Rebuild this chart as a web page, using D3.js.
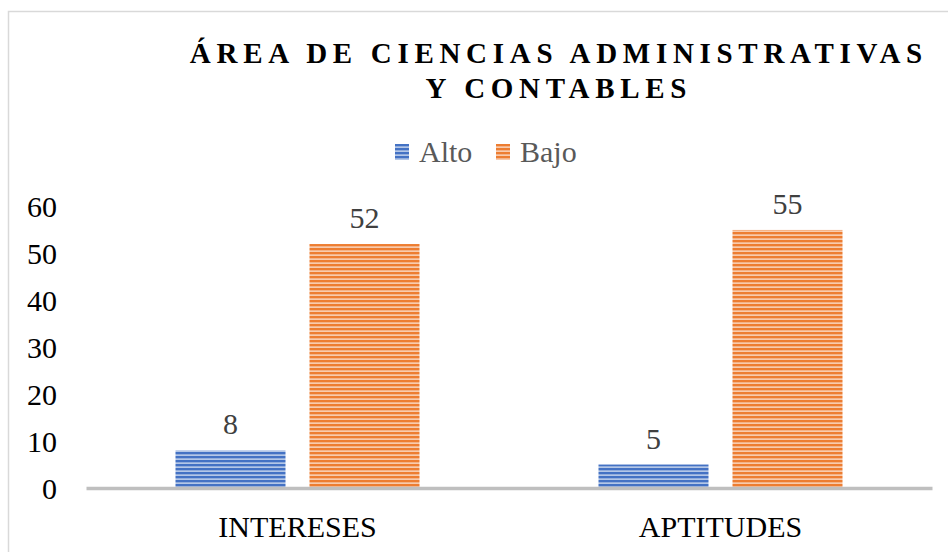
<!DOCTYPE html>
<html><head><meta charset="utf-8">
<script src="https://cdn.jsdelivr.net/npm/d3@7"></script>
<style>
body{margin:0;background:#fff;}
svg{display:block;}
</style>
</head><body>
<svg id="chart" width="948" height="552"></svg>
<script>
const categories = ["INTERESES", "APTITUDES"];
const seriesNames = ["Alto", "Bajo"];
const alto = [8, 5];
const bajo = [52, 55];
const yTicks = [0, 10, 20, 30, 40, 50, 60];
const titleLines = ["ÁREA DE CIENCIAS ADMINISTRATIVAS", "Y CONTABLES"];

const svg = d3.select("#chart");
const serif = "Liberation Serif";

// patterns
const defs = svg.append("defs");
const pat = [{id:"pAlto", dark:"#4472C4", light:"#b4c7e7"}, {id:"pBajo", dark:"#ED7D31", light:"#f8cbad"}];
pat.forEach(p => {
  const g = defs.append("pattern").attr("id", p.id).attr("patternUnits","userSpaceOnUse")
    .attr("width", 8).attr("height", 4);
  g.append("rect").attr("width",8).attr("height",4).attr("fill",p.light);
  g.append("rect").attr("y",0).attr("width",8).attr("height",2.3).attr("fill",p.dark);
});

// border
svg.append("rect").attr("x",8.5).attr("y",11.5).attr("width",945).attr("height",560)
  .attr("fill","none").attr("stroke","#d9d9d9").attr("stroke-width",1.5);

const x0 = d3.scaleBand().domain(categories).range([86, 932]).paddingInner(0).paddingOuter(0);
const x1 = d3.scaleBand().domain(seriesNames).range([89.5, 423-89.5]).paddingInner(24/134);
const y = d3.scaleLinear().domain([0, 60]).range([488, 206.5]);

// y axis labels
const yAxis = d3.axisLeft(y).tickValues(yTicks).tickSize(0).tickPadding(0);
const ya = svg.append("g").attr("transform","translate(57,0)").call(yAxis)
  .attr("font-family", serif).attr("font-size", 30);
ya.select(".domain").remove();
ya.selectAll("text").style("font-family", serif).attr("font-size", 30).attr("fill","#000").attr("dy","0.34em");

const data = categories.map((c,i) => ({cat:c, vals:[{s:"Alto", v:alto[i]}, {s:"Bajo", v:bajo[i]}]}));
const groups = svg.selectAll("g.cat").data(data).join("g").attr("class","cat")
  .attr("transform", d => `translate(${x0(d.cat)},0)`);
groups.selectAll("rect").data(d => d.vals).join("rect")
  .attr("x", d => x1(d.s)).attr("width", x1.bandwidth())
  .attr("y", d => y(d.v)).attr("height", d => y(0) - y(d.v))
  .attr("fill", d => d.s === "Alto" ? "url(#pAlto)" : "url(#pBajo)");
groups.selectAll("text.val").data(d => d.vals).join("text").attr("class","val")
  .attr("x", d => x1(d.s) + x1.bandwidth()/2).attr("y", d => y(d.v) - 16)
  .attr("text-anchor","middle").style("font-family", serif).attr("font-size", 30).attr("fill","#404040")
  .text(d => d.v);

// x axis
const xAxis = d3.axisBottom(x0).tickSize(0).tickPadding(28);
const xa = svg.append("g").attr("transform","translate(0,488)").call(xAxis)
  .attr("font-family", serif).attr("font-size", 30);
xa.select(".domain").attr("stroke","#bfbfbf").attr("stroke-width",3.5);
xa.selectAll("text").style("font-family", serif).attr("font-size", 30).attr("fill","#000");

// title
svg.append("g").selectAll("text").data(titleLines).join("text")
  .attr("x", 558.9).attr("y", (d,i) => 63 + i*35)
  .attr("text-anchor","middle").style("font-family", serif).attr("font-weight","bold")
  .attr("font-size", 29).style("letter-spacing", "5.7px").attr("fill","#000")
  .text(d => d);

// legend
const leg = svg.append("g");
const legX = [395, 496];
seriesNames.forEach((s,i) => {
  leg.append("rect").attr("x", legX[i]).attr("y", 144).attr("width", 14).attr("height", 16)
    .attr("fill", i===0 ? "url(#pAlto)" : "url(#pBajo)");
  leg.append("text").attr("x", legX[i] + 24).attr("y", 162).style("font-family", serif)
    .attr("font-size", 30).attr("fill","#595959").text(s);
});
</script>
</body></html>
